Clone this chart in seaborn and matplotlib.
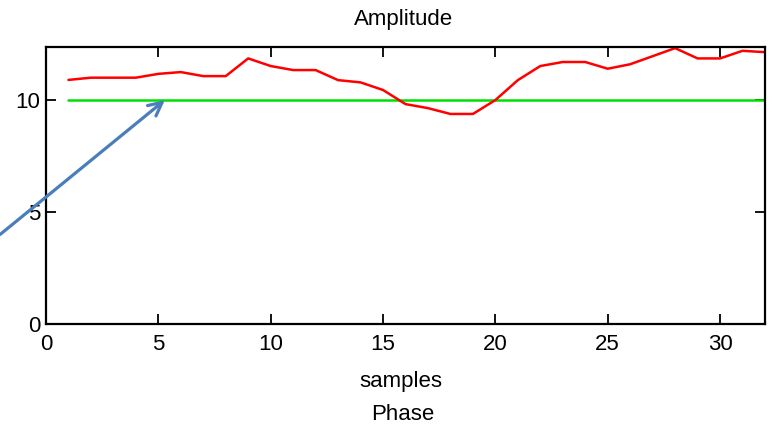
import matplotlib
matplotlib.use("Agg")
import matplotlib.pyplot as plt
import seaborn as sns
import numpy as np
import pandas as pd

samples = list(range(1, 33))
amplitude = [10.9, 11.0, 11.0, 11.0, 11.17, 11.25, 11.07, 11.07, 11.86, 11.52,
             11.34, 11.34, 10.89, 10.79, 10.45, 9.82, 9.64, 9.38, 9.38, 10.0,
             10.89, 11.52, 11.7, 11.7, 11.4, 11.6, 11.96, 12.32, 11.86, 11.86,
             12.2, 12.14]
reference_level = [10.0] * 32
x_ticks = [0, 5, 10, 15, 20, 25, 30]
y_ticks = [0, 5, 10]

sns.set_style("ticks")
plt.rcParams['font.family'] = ['Liberation Sans', 'DejaVu Sans']
plt.rcParams['text.color'] = 'black'
plt.rcParams['xtick.color'] = 'black'
plt.rcParams['ytick.color'] = 'black'
plt.rcParams['xtick.labelcolor'] = 'black'
plt.rcParams['ytick.labelcolor'] = 'black'

df = pd.DataFrame({"samples": samples, "amplitude": amplitude, "ref": reference_level})

fig = plt.figure(figsize=(7.72, 4.29), dpi=100)
ax = fig.add_axes([46/772, 1 - 324/429, (765-46)/772, (324-47)/429])

sns.lineplot(data=df, x="samples", y="ref", ax=ax, color="#00E000", lw=1.8)
sns.lineplot(data=df, x="samples", y="amplitude", ax=ax, color="#FF0000", lw=1.8)

ax.set_xlim(0, 32)
ax.set_ylim(0, 12.37)
ax.set_xticks(x_ticks)
ax.set_yticks(y_ticks)
ax.tick_params(direction="in", length=7, width=1.3, labelsize=16, top=True, right=True,
               colors="black")
ax.tick_params(axis="x", pad=7)
ax.tick_params(axis="y", pad=4)
for s in ax.spines.values():
    s.set_linewidth(1.6)
    s.set_color("black")
ax.set_xlabel("")
ax.set_ylabel("")

ax.annotate("", xy=(5.29, 10.0), xytext=(-2.04, 4.0),
            arrowprops=dict(arrowstyle="->", color="#4A7EBB", lw=2.3,
                            mutation_scale=24, shrinkA=0, shrinkB=0),
            annotation_clip=False)

fig.text(404/772, 1 - 20/429, "Amplitude", ha="center", va="center", fontsize=16)
fig.text(401/772, 1 - 381/429, "samples", ha="center", va="center", fontsize=16)
fig.text(403/772, 1 - 415/429, "Phase", ha="center", va="center", fontsize=16)

fig.savefig("out.png", dpi=100)
